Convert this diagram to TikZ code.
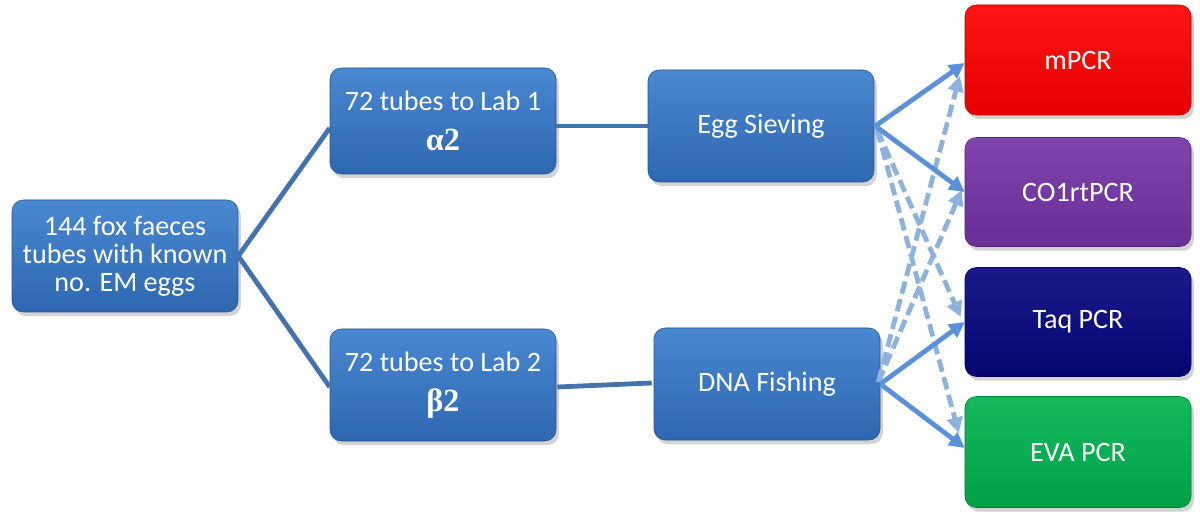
\documentclass[tikz,border=0pt]{standalone}
\usepackage{fontspec}
\setmainfont{Carlito}
\newfontfamily\greekfont{Liberation Serif}
\usetikzlibrary{arrows.meta,shadows,calc}

\definecolor{boxtop}{HTML}{4A88D2}
\definecolor{boxbot}{HTML}{2E67B0}
\definecolor{linkcol}{HTML}{4472AC}
\definecolor{arrcol}{HTML}{5B90DA}
\definecolor{dashcol}{HTML}{8EB2DE}
\definecolor{pcrred}{HTML}{FF0000}
\definecolor{pcrpurple}{HTML}{7434A6}
\definecolor{pcrnavy}{HTML}{06067F}
\definecolor{pcrgreen}{HTML}{00B34E}

\tikzset{
  stagebox/.style={rounded corners=8pt, minimum width=226*0.025cm, minimum height=112*0.025cm,
    top color=boxtop, bottom color=boxbot, draw=boxbot!80!black, thin,
    drop shadow={shadow xshift=2pt, shadow yshift=-3pt, opacity=0.35},
    text=white, align=center, font=\fontsize{20}{20}\selectfont, inner sep=2pt},
  pcrbox/.style={stagebox, top color=#1!92!white, bottom color=#1!90!black, draw=#1!70!black},
  link/.style={draw=linkcol, line width=3.4pt},
  solidarr/.style={draw=arrcol, line width=3.4pt, -{Triangle[length=11pt,width=11pt]}},
  dasharr/.style={draw=dashcol, line width=3.4pt, dash pattern=on 9pt off 4pt,
    -{Triangle[length=11pt,width=11pt]}}
}

\begin{document}
\begin{tikzpicture}[x=0.025cm, y=-0.025cm]
  \useasboundingbox (0,0) rectangle (1200,523);

  % first column
  \node[stagebox] (root) at (125,256) {144 fox faeces\\tubes with known\\no. EM eggs};

  % labs
  \node[stagebox, minimum height=106*0.025cm] (labone) at (443,121)
    {72 tubes to Lab 1\\[8pt]{\greekfont\bfseries\fontsize{23}{23}\selectfont α2}};
  \node[stagebox] (labtwo) at (443,385)
    {72 tubes to Lab 2\\[8pt]{\greekfont\bfseries\fontsize{23}{23}\selectfont β2}};

  % methods
  \node[stagebox] (sieve) at (761,126) {Egg Sieving};
  \node[stagebox] (fishing) at (767,384) {DNA Fishing};

  % PCR tests
  \node[pcrbox=pcrred, minimum height=110*0.025cm] (mpcr) at (1078,60) {mPCR};
  \node[pcrbox=pcrpurple, minimum height=109*0.025cm] (coone) at (1078,192) {CO1rtPCR};
  \node[pcrbox=pcrnavy, minimum height=109*0.025cm] (taq) at (1078,322) {Taq PCR};
  \node[pcrbox=pcrgreen, minimum height=111*0.025cm] (eva) at (1078,452) {EVA PCR};

  \draw[link] (root.east) -- ($(labone.west)+(0,7)$);
  \draw[link] (root.east) -- ($(labtwo.west)+(0,2)$);
  \draw[link] ($(labone.east)+(0,5)$) -- ($(sieve.west)+(0,0)$);
  \draw[link] ($(labtwo.east)+(1,2)$) -- ($(fishing.west)+(-2,-1)$);

  % cross-over dashed arrows
  \draw[dasharr] ($(sieve.east)+(3,4)$) -- ($(taq.west)+(-4,-5)$);
  \draw[dasharr] ($(sieve.east)+(3,4)$) -- ($(eva.west)+(-6,-19)$);
  \draw[dasharr] ($(fishing.east)+(-2,-2)$) -- ($(mpcr.west)+(-5,16)$);
  \draw[dasharr] ($(fishing.east)+(-2,-2)$) -- ($(coone.west)+(-3,-2)$);

  % solid arrows
  \draw[solidarr] ($(sieve.east)+(1,0)$) -- ($(mpcr.west)+(0,3)$);
  \draw[solidarr] ($(sieve.east)+(1,0)$) -- (coone.west);
  \draw[solidarr] (fishing.east) -- (taq.west);
  \draw[solidarr] (fishing.east) -- ($(eva.west)+(0,-4)$);
\end{tikzpicture}
\end{document}
